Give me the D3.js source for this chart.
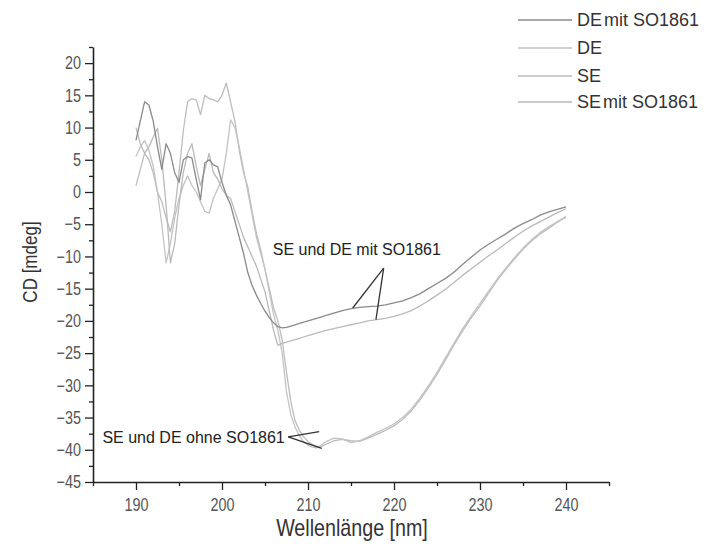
<!DOCTYPE html>
<html><head><meta charset="utf-8">
<script src="https://cdn.jsdelivr.net/npm/d3@7"></script>
<style>
html,body{margin:0;padding:0;background:#fff;}
svg{display:block;}
</style>
</head><body>
<svg id="chart" width="723" height="547"></svg>
<script>
// ---- data ----
const wavelength = [190,190.5,191,191.5,192,192.5,193,193.5,194,194.5,195,195.5,196,196.5,197,197.5,198,198.5,199,199.5,200,200.5,201,201.5,202,202.5,203,203.5,204,204.5,205,205.5,206,206.5,207,207.5,208,208.5,209,209.5,210,210.5,211,211.5,212,
  213,214,215,216,217,218,219,220,221,222,223,224,225,226,227,228,229,230,231,232,233,234,235,236,237,238,239,240];

const deMitSO1861 = [8,11,14,13.5,11,7,3.5,7.5,6,3,1.5,5,5.5,5.3,2,-1.2,4.5,5,4.2,3.9,1.5,-0.5,-2,-4.5,-7,-9.5,-12.5,-14.5,-16,-17.3,-18.5,-19.5,-20.3,-20.9,-21.1,-21,-20.8,-20.6,-20.4,-20.2,-20,-19.8,-19.6,-19.4,-19.2,
  -18.8,-18.4,-18.1,-17.9,-17.8,-17.7,-17.5,-17.2,-16.9,-16.4,-15.8,-15,-14.2,-13.4,-12.4,-11.2,-10.1,-9.0,-8.1,-7.3,-6.5,-5.6,-4.9,-4.3,-3.6,-3.1,-2.7,-2.3];

const de = [5.5,7,8,6.5,4,0,-5,-11,-8,-4,-1,1,2.5,1,0,-1.5,-3,-3.3,-1,0.5,2,6,11.2,10,7,3.5,0,-3.5,-7,-9.5,-12,-15.5,-19,-21.5,-25,-31,-34.5,-36.5,-37.8,-38.8,-39.3,-39.6,-39.7,-39.3,-38.8,
  -38.2,-38.3,-38.9,-38.6,-38,-37.3,-36.7,-36,-35,-33.7,-32,-30.1,-28,-25.7,-23.4,-21.2,-19.2,-17.3,-15.4,-13.5,-11.8,-10.2,-8.7,-7.4,-6.3,-5.4,-4.6,-3.8];

const se = [1,3.5,6,5,3,0,-1.5,-4,-6.2,-3,3,9.5,14,14.5,14.3,12,15,14.5,14.3,14,15,16.9,14,11,6.5,3,0.8,-3,-6.4,-9,-12,-15,-18,-20,-23,-28,-32.5,-35.5,-37,-38,-38.7,-39.2,-39.5,-39.5,-39.2,
  -38.6,-38.4,-38.6,-38.7,-38.2,-37.6,-37,-36.3,-35.3,-34,-32.3,-30.4,-28.3,-26,-23.7,-21.5,-19.5,-17.7,-15.7,-13.7,-12,-10.4,-8.9,-7.6,-6.5,-5.6,-4.7,-3.9];

const seMitSO1861 = [10,7.5,6,7,8.5,9.9,5,-2,-11,-8,-2,3,6,7.5,4,1,3.5,6,3,2,0.5,-0.5,-1,-3,-5,-7,-8.5,-10,-11.5,-13.5,-15.5,-18.5,-21.5,-23.8,-23.5,-23.3,-23.1,-22.9,-22.7,-22.5,-22.3,-22.1,-21.9,-21.7,-21.5,
  -21.2,-20.9,-20.6,-20.3,-20,-19.8,-19.6,-19.3,-18.9,-18.4,-17.7,-16.9,-16,-15.1,-14,-12.9,-11.9,-10.9,-9.9,-9,-8,-7,-6.1,-5.3,-4.6,-3.9,-3.2,-2.6];

const seriesNames = ["DEmit SO1861","DE","SE","SEmit SO1861"];
const xMajorTicks = [190,200,210,220,230,240];
const xMinorTicks = [185,195,205,215,225,235,245];
const yMajorTicks = [-45,-40,-35,-30,-25,-20,-15,-10,-5,0,5,10,15,20];
const yMinorTicks = [-42.5,-37.5,-32.5,-27.5,-22.5,-17.5,-12.5,-7.5,-2.5,2.5,7.5,12.5,17.5,22.5];
const xTitle = "Wellenlänge [nm]";
const yTitle = "CD [mdeg]";
// annotations (data units)
const annoMit = {text:"SE und DE mit SO1861", tx:205.9, ty:-9.8, apex:[218.8,-11.8], ends:[[215.2,-18.0],[217.9,-19.8]]};
const annoOhne = {text:"SE und DE ohne SO1861", tx:207.3, ty:-38.95, apex:[207.7,-38.0], ends:[[211.3,-37.2],[211.6,-39.8]]};

// ---- chart ----
const svg = d3.select("#chart");
const x = d3.scaleLinear().domain([185,245]).range([93,609]);
const y = d3.scaleLinear().domain([-45,22.5]).range([482,47]);

const mainFont = "'Liberation Sans',Arial,sans-serif";

function condense(sel, f){
  sel.each(function(){
    const w = this.getComputedTextLength();
    if (w > 0){
      this.setAttribute("textLength", (w*f).toFixed(2));
      this.setAttribute("lengthAdjust","spacingAndGlyphs");
    }
  });
}

const series = [
  {name:seriesNames[2], values:se, color:"#bdbdbd"},
  {name:seriesNames[1], values:de, color:"#c3c3c3"},
  {name:seriesNames[3], values:seMitSO1861, color:"#bababa"},
  {name:seriesNames[0], values:deMitSO1861, color:"#8a8a8a"}
];

const line = d3.line().x((d,i)=>x(wavelength[i])).y(d=>y(d));
svg.append("g").selectAll("path").data(series).join("path")
  .attr("d", d=>line(d.values))
  .attr("fill","none").attr("stroke", d=>d.color).attr("stroke-width",1.3)
  .attr("stroke-linejoin","round");

// axes
function styleAxis(g){
  g.select(".domain").attr("stroke","#222").attr("stroke-width",1.6);
  g.selectAll(".tick line").attr("stroke","#222").attr("stroke-width",1.3);
  g.selectAll(".tick text").attr("fill","#555").style("font-family",mainFont).style("font-size","18px");
}
const gx = svg.append("g").attr("transform","translate(0,482)")
  .call(d3.axisBottom(x).tickValues(xMajorTicks).tickSize(8).tickSizeOuter(0).tickPadding(8));
styleAxis(gx); condense(gx.selectAll(".tick text"), 0.8);
const gxm = svg.append("g").attr("transform","translate(0,482)")
  .call(d3.axisBottom(x).tickValues(xMinorTicks).tickSize(4).tickFormat("").tickSizeOuter(0));
styleAxis(gxm); gxm.select(".domain").remove();

const gy = svg.append("g").attr("transform","translate(93,0)")
  .call(d3.axisLeft(y).tickValues(yMajorTicks).tickSize(8).tickSizeOuter(0).tickPadding(4));
styleAxis(gy); condense(gy.selectAll(".tick text"), 0.8);
const gym = svg.append("g").attr("transform","translate(93,0)")
  .call(d3.axisLeft(y).tickValues(yMinorTicks).tickSize(4).tickFormat("").tickSizeOuter(0));
styleAxis(gym); gym.select(".domain").remove();

// titles
const xt = svg.append("text").attr("x",352).attr("y",536).attr("text-anchor","middle")
  .style("font-family",mainFont).style("font-size","24px").attr("fill","#333").text(xTitle);
condense(xt, 0.82);
const yt = svg.append("text").attr("transform","translate(37,262) rotate(-90)").attr("text-anchor","middle")
  .style("font-family",mainFont).style("font-size","20px").attr("fill","#333").text(yTitle);
condense(yt, 0.85);

// annotations
function drawAnno(a, anchor){
  svg.append("text").attr("x",x(a.tx)).attr("y",y(a.ty)).attr("text-anchor",anchor)
    .style("font-family",mainFont).style("font-size","16px").attr("fill","#222").text(a.text);
  a.ends.forEach(e=>{
    svg.append("line").attr("x1",x(a.apex[0])).attr("y1",y(a.apex[1]))
      .attr("x2",x(e[0])).attr("y2",y(e[1])).attr("stroke","#333").attr("stroke-width",1.3);
  });
}
drawAnno(annoMit,"start");
drawAnno(annoOhne,"end");

// legend
const legendColors = ["#8a8a8a","#c3c3c3","#bdbdbd","#bababa"];
const legY = [20,48,76,102];
seriesNames.forEach((n,i)=>{
  svg.append("line").attr("x1",518).attr("x2",572).attr("y1",legY[i]).attr("y2",legY[i])
    .attr("stroke",legendColors[i]).attr("stroke-width",1.5);
  const t = svg.append("text").attr("x",577).attr("y",legY[i]+6)
    .style("font-family",mainFont).style("font-size","18px").attr("fill","#333");
  const m = n.match(/^(DE|SE)(.*)$/);
  if(m && m[2].length){
    t.append("tspan").text(m[1]);
    t.append("tspan").attr("dx",2).text(m[2]);
  } else t.text(n);
});
</script>
</body></html>
